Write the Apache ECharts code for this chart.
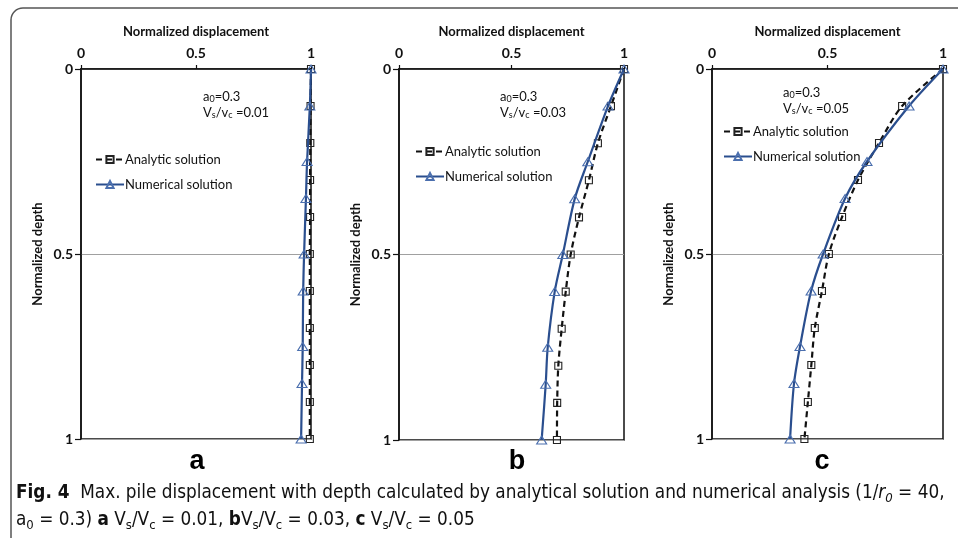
<!DOCTYPE html>
<html>
<head>
<meta charset="utf-8">
<script src="https://cdn.jsdelivr.net/npm/echarts@6/dist/echarts.min.js"></script>
<style>
  html, body { margin: 0; padding: 0; background: #fff; }
  #main { width: 958px; height: 538px; }
</style>
</head>
<body>
<div id="main"></div>
<script>
var chartDom = document.getElementById('main');
var myChart = echarts.init(chartDom);

// depth positions (normalized)
var depthAnalytic = [0, 0.1, 0.2, 0.3, 0.4, 0.5, 0.6, 0.7, 0.8, 0.9, 1];
var depthNumerical = [0, 0.1, 0.25, 0.35, 0.5, 0.6, 0.75, 0.85, 1];

// normalized displacement, panels a / b / c
var analyticA = [1, 0.998, 0.997, 0.996, 0.996, 0.995, 0.995, 0.995, 0.995, 0.995, 0.995];
var numericalA = [1, 0.995, 0.983, 0.978, 0.970, 0.966, 0.964, 0.961, 0.957];
var analyticB = [1, 0.942, 0.884, 0.844, 0.800, 0.763, 0.741, 0.723, 0.708, 0.703, 0.702];
var numericalB = [1, 0.929, 0.839, 0.781, 0.728, 0.692, 0.661, 0.652, 0.634];
var analyticC = [1, 0.823, 0.723, 0.632, 0.563, 0.506, 0.476, 0.445, 0.430, 0.415, 0.400];
var numericalC = [1, 0.853, 0.671, 0.576, 0.481, 0.429, 0.381, 0.355, 0.338];

var panelLetters = ['a', 'b', 'c'];
var ratioLabels = ['0.01', '0.03', '0.05'];
var xTicks = [0, 0.5, 1];
var seriesNames = ['Analytic solution', 'Numerical solution'];

var analytic = [analyticA, analyticB, analyticC];
var numerical = [numericalA, numericalB, numericalC];

function pairs(xs, ys) {
  return xs.map(function (v, i) { return [v, ys[i]]; });
}

// layout of the three panels
var grids = [
  { left: 81, top: 69, width: 230, height: 370 },
  { left: 399, top: 69, width: 225, height: 371 },
  { left: 712, top: 69, width: 231, height: 370 }
];
var legendPos = [
  { left: 90, top: 148 },
  { left: 410, top: 140 },
  { left: 718, top: 120 }
];
var notePos = [[203, 89], [500, 89], [783, 85]];
var letterX = [197, 517, 822];

var fontMain = 'Lato, "Liberation Sans", sans-serif';
var blue = '#2a4e8e';

var xAxes = [], yAxes = [], series = [], legends = [], graphics = [];

graphics.push({
  type: 'rect',
  z: -1,
  shape: { x: 11, y: 8, width: 1000, height: 600, r: 12 },
  style: { fill: 'none', stroke: '#555', lineWidth: 1.5 }
});

grids.forEach(function (g, i) {
  xAxes.push({
    gridIndex: i,
    type: 'value',
    position: 'top',
    min: 0,
    max: 1,
    interval: 0.5,
    name: 'Normalized displacement',
    nameLocation: 'middle',
    nameGap: 31,
    nameTextStyle: { color: '#111', fontSize: 13, fontWeight: 'bold', fontFamily: fontMain },
    axisLine: { lineStyle: { color: '#111', width: 1.5 } },
    axisTick: { length: 4, lineStyle: { color: '#111', width: 1.2 } },
    axisLabel: {
      margin: 9, color: '#111', fontSize: 14, fontWeight: 'bold', fontFamily: fontMain,
      formatter: function (v) { return xTicks.indexOf(v) >= 0 ? String(v) : ''; }
    },
    splitLine: { show: false }
  });
  yAxes.push({
    gridIndex: i,
    type: 'value',
    inverse: true,
    min: 0,
    max: 1,
    interval: 0.5,
    name: 'Normalized depth',
    nameLocation: 'middle',
    nameGap: 37,
    nameRotate: 90,
    nameTextStyle: { color: '#111', fontSize: 13, fontWeight: 'bold', fontFamily: fontMain },
    axisLine: { lineStyle: { color: '#111', width: 1.5 } },
    axisTick: { length: 6, lineStyle: { color: '#111', width: 1.2 } },
    axisLabel: { margin: 8, color: '#111', fontSize: 14, fontWeight: 'bold', fontFamily: fontMain },
    splitLine: { show: true, lineStyle: { color: '#a0a0a0', width: 1 } }
  });
  series.push({
    name: seriesNames[0],
    type: 'line',
    xAxisIndex: i,
    yAxisIndex: i,
    smooth: 0.3,
    symbol: 'rect',
    symbolSize: 7,
    data: pairs(analytic[i], depthAnalytic),
    lineStyle: { color: '#111', width: 2.2, type: [6, 4] },
    itemStyle: { color: 'rgba(255,255,255,0)', borderColor: '#222', borderWidth: 1.1 },
    z: 3
  });
  series.push({
    name: seriesNames[1],
    type: 'line',
    xAxisIndex: i,
    yAxisIndex: i,
    smooth: 0.3,
    symbol: 'triangle',
    symbolSize: [10, 8],
    data: pairs(numerical[i], depthNumerical),
    lineStyle: { color: blue, width: 2.2 },
    itemStyle: { color: 'rgba(255,255,255,0)', borderColor: '#4b6fae', borderWidth: 1.1 },
    z: 4
  });
  legends.push({
    data: seriesNames,
    orient: 'vertical',
    left: legendPos[i].left,
    top: legendPos[i].top,
    itemWidth: 28,
    itemHeight: 9,
    itemGap: 12,
    selectedMode: false,
    textStyle: { color: '#111', fontSize: 13, fontFamily: fontMain, padding: [0, 0, 0, -4] }
  });
  graphics.push({
    type: 'text',
    left: notePos[i][0],
    top: notePos[i][1],
    style: {
      text: '{n|a}{s|0}{n|=0.3}\n{n|V}{s|s}{n|/v}{s|c}{n| =' + ratioLabels[i] + '}',
      fill: '#111',
      rich: {
        n: { fontSize: 13, fontFamily: fontMain, lineHeight: 16 },
        s: { fontSize: 9, fontFamily: fontMain, lineHeight: 10, padding: [6, 0, 0, 0] }
      }
    }
  });
  graphics.push({
    type: 'text',
    x: letterX[i],
    y: 462,
    style: {
      text: panelLetters[i],
      fill: '#000',
      font: 'bold 27px "Liberation Sans", Arial, sans-serif',
      textAlign: 'center',
      textVerticalAlign: 'middle'
    }
  });
});

// caption
var capFont = '"Liberation Sans Narrow", "DejaVu Sans Condensed", sans-serif';
graphics.push({
  type: 'text',
  left: 16,
  top: 482,
  style: {
    text: '{b|Fig. 4}{t|  Max. pile displacement with depth calculated by analytical solution and numerical analysis (1/}{i|r}{is|0}{t| = 40,}\n' +
      '{t|a}{s|0}{t| = 0.3) }{b|a}{t| V}{s|s}{t|/V}{s|c}{t| = 0.01, }{b|b}{t|V}{s|s}{t|/V}{s|c}{t| = 0.03, }{b|c}{t| V}{s|s}{t|/V}{s|c}{t| = 0.05}',
    fill: '#111',
    rich: {
      t: { fontSize: 18.8, fontFamily: capFont, lineHeight: 27 },
      b: { fontSize: 18.8, fontFamily: capFont, fontWeight: 'bold', lineHeight: 27 },
      i: { fontSize: 18.8, fontFamily: capFont, fontStyle: 'italic', lineHeight: 27 },
      s: { fontSize: 13, fontFamily: capFont, lineHeight: 17, padding: [10, 0, 0, 0] },
      is: { fontSize: 13, fontFamily: capFont, fontStyle: 'italic', lineHeight: 17, padding: [10, 0, 0, 0] }
    }
  }
});

var option = {
  backgroundColor: '#fff',
  animation: false,
  grid: grids.map(function (g) {
    return { left: g.left, top: g.top, width: g.width, height: g.height, show: true, borderColor: '#111', borderWidth: 1.5, containLabel: false };
  }),
  xAxis: xAxes,
  yAxis: yAxes,
  legend: legends,
  series: series,
  graphic: graphics
};

option && myChart.setOption(option);
</script>
</body>
</html>
